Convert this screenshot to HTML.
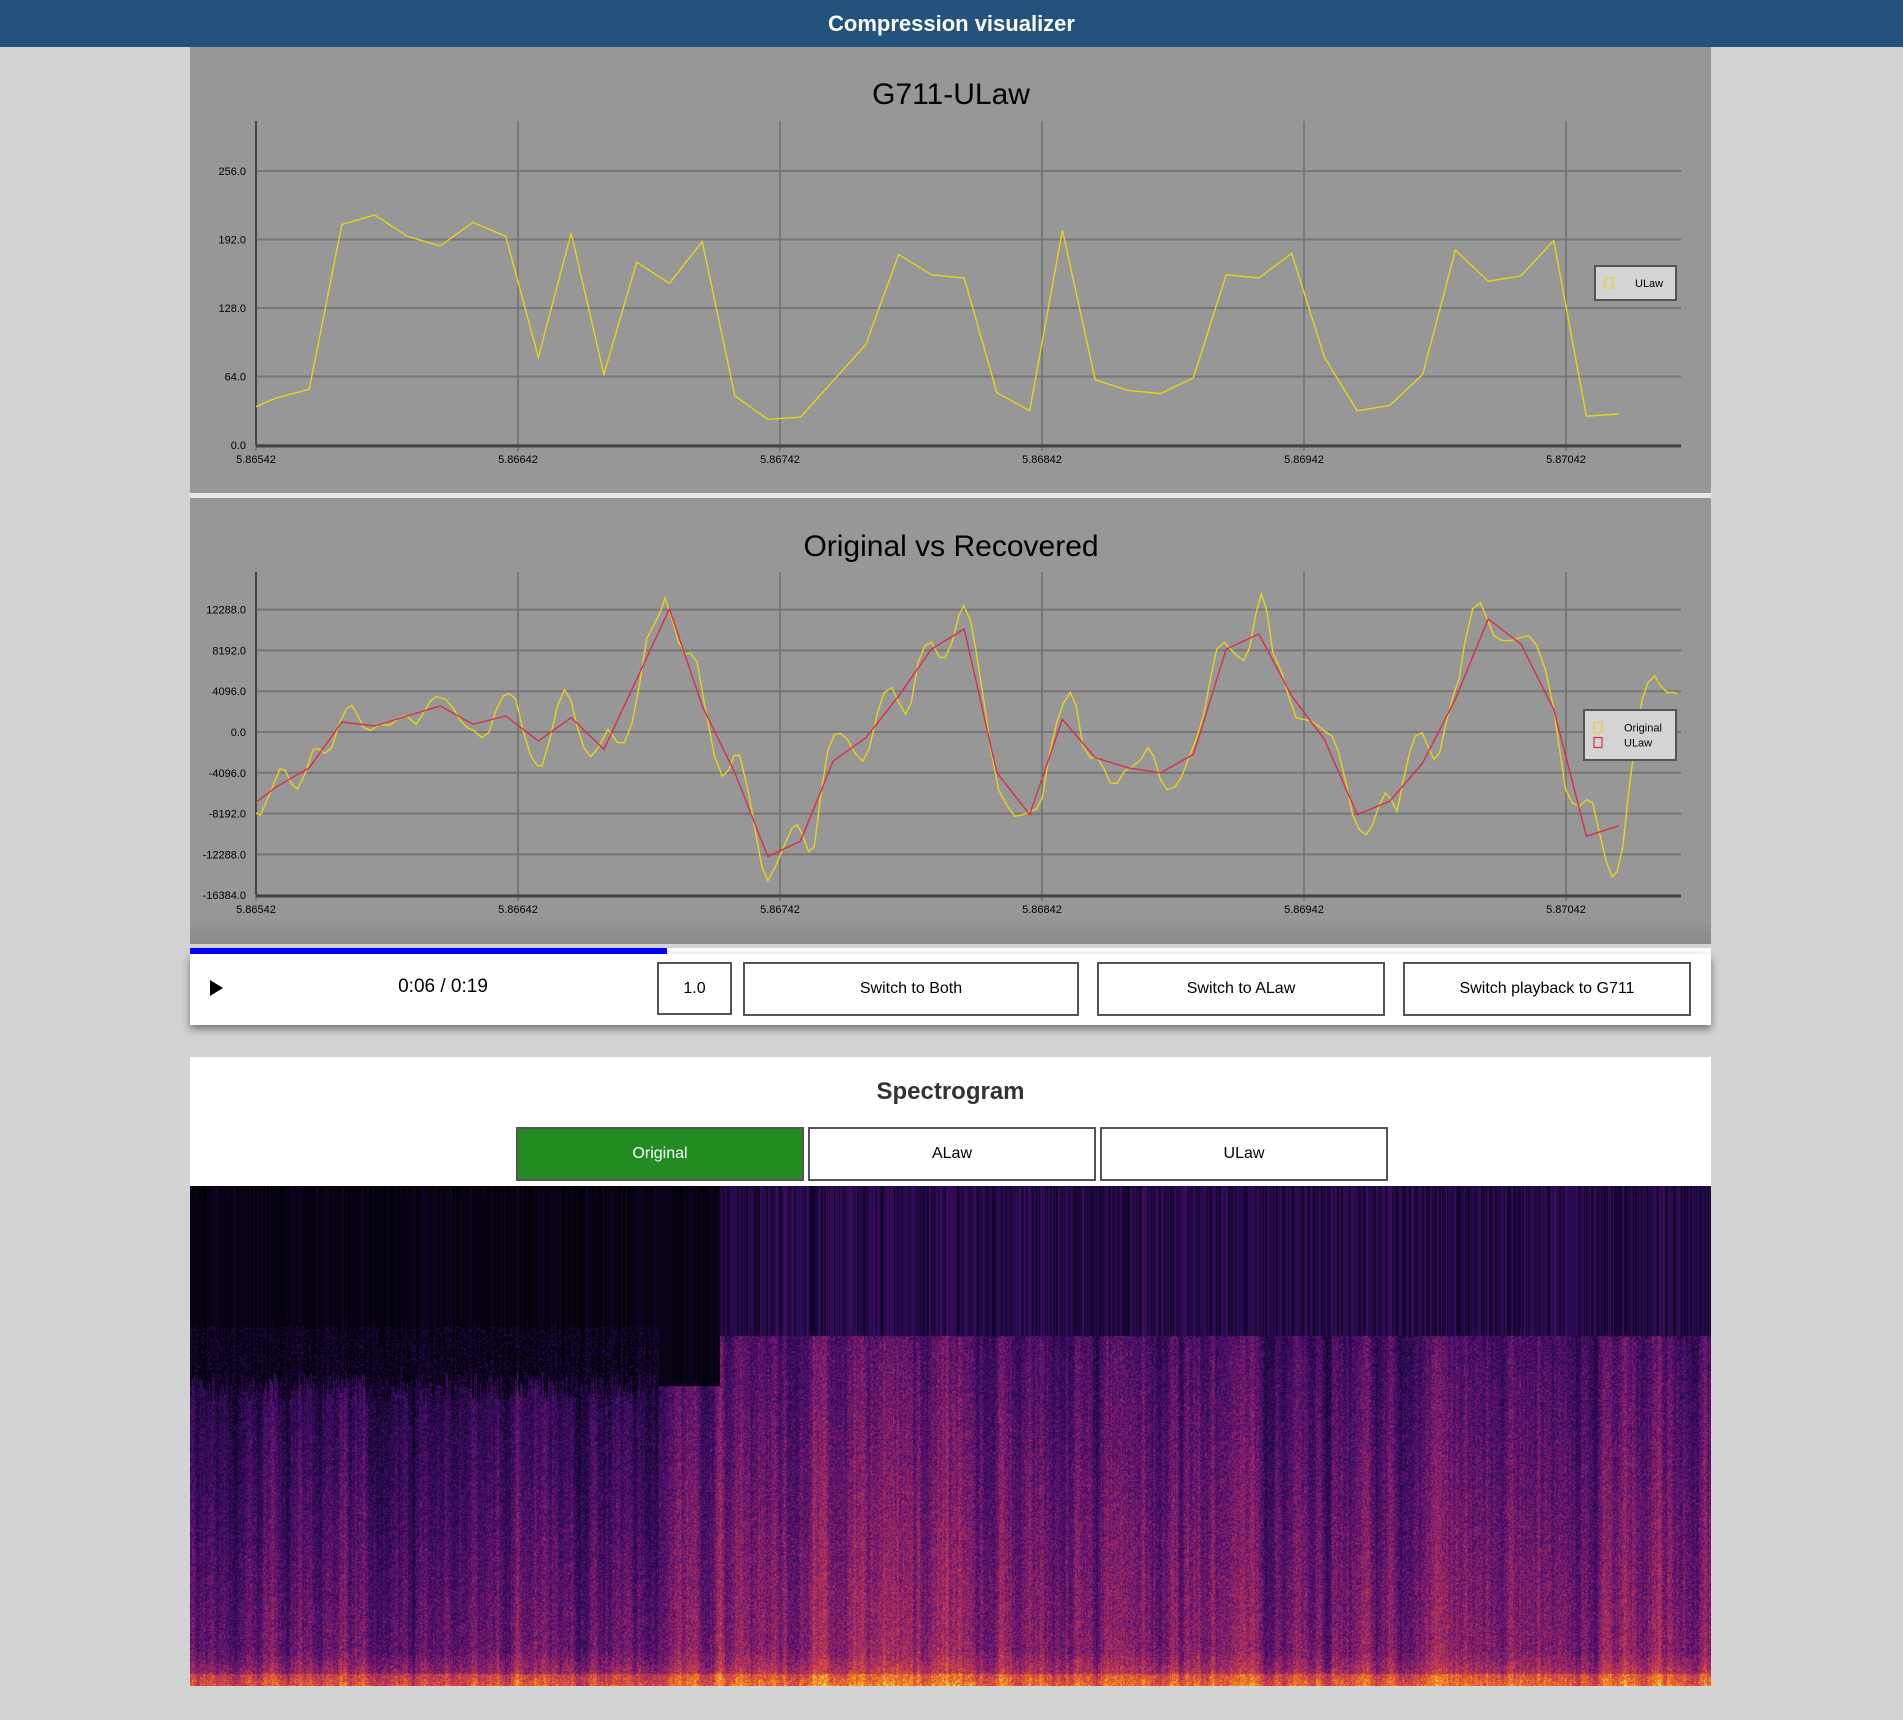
<!DOCTYPE html>
<html><head><meta charset="utf-8">
<style>
body{margin:0;width:1903px;height:1720px;background:#d3d3d3;position:relative;overflow:hidden;font-family:"Liberation Sans",sans-serif}
.abs{position:absolute}
#hdr{left:0;top:0;width:1903px;height:47px;background:#23527c;color:#fff;font-weight:bold;font-size:22px;text-align:center;line-height:47px}
.panel{left:190px;width:1521px;background:#979797}
.btn{position:absolute;box-sizing:border-box;border:2px solid #555;background:#fff;font-size:16px;text-align:center;color:#000}
</style></head><body>
<div id="hdr" class="abs">Compression visualizer</div>
<div class="abs panel" style="top:47px;height:446px"></div>
<div class="abs" style="left:190px;top:493px;width:1521px;height:5px;background:#e6e6e6"></div>
<div class="abs panel" style="top:498px;height:446px;background:linear-gradient(#979797 0,#979797 420px,#8a8a8a 446px)"></div>
<svg class="abs" style="left:0;top:0" width="1903" height="960" id="charts"></svg>

<div class="abs" style="left:190px;top:948px;width:1521px;height:6px;background:#fff"></div>
<div class="abs" style="left:190px;top:948px;width:477px;height:6px;background:#0000ff"></div>
<div class="abs" style="left:190px;top:954px;width:1521px;height:71px;background:#fff;box-shadow:0 4px 8px rgba(0,0,0,.45)">
  <div class="abs" style="left:20px;top:26px;width:0;height:0;border-left:13px solid #000;border-top:8px solid transparent;border-bottom:8px solid transparent"></div>
  <div class="abs" style="left:183px;top:22px;width:140px;text-align:center;font-size:19px">0:06 / 0:19</div>
  <div class="btn" style="left:467px;top:8px;width:75px;height:53px;line-height:49px">1.0</div>
  <div class="btn" style="left:553px;top:8px;width:336px;height:54px;line-height:50px">Switch to Both</div>
  <div class="btn" style="left:907px;top:8px;width:288px;height:54px;line-height:50px">Switch to ALaw</div>
  <div class="btn" style="left:1213px;top:8px;width:288px;height:54px;line-height:50px">Switch playback to G711</div>
</div>

<div class="abs" style="left:190px;top:1057px;width:1521px;height:129px;background:#fff">
  <div class="abs" style="left:0;top:21px;width:1521px;text-align:center;font-weight:bold;font-size:24px;color:#333">Spectrogram</div>
  <div class="btn" style="left:326px;top:70px;width:288px;height:54px;line-height:50px;background:#228b22;color:#fff">Original</div>
  <div class="btn" style="left:618px;top:70px;width:288px;height:54px;line-height:50px">ALaw</div>
  <div class="btn" style="left:910px;top:70px;width:288px;height:54px;line-height:50px">ULaw</div>
</div>
<canvas id="spec" class="abs" style="left:190px;top:1186px" width="1521" height="500"></canvas>

<script>
const xTicks=["5.86542","5.86642","5.86742","5.86842","5.86942","5.87042"];
const ulawTicks=[0,64,128,192,256];
const cmpTicks=[-16384,-12288,-8192,-4096,0,4096,8192,12288];
const ulawStart=5.865373, ulawStep=0.000125;
const ulawCodes=[31,44,52,206,215,195,186,208,195,82,198,66,171,151,190,46,24,26,60,94,178,159,156,49,32,201,61,51,48,63,159,156,179,82,32,37,66,182,153,158,191,27,29];
const ulawDecoded=[-8000,-5500,-3592,1007,604,1611,2618,772,1611,-906,1443,-1746,5304,12354,2618,-4096,-12488,-10977,-2920,-571,3626,8325,10340,-4096,-8292,1276,-2585,-3592,-4096,-2249,8325,9836,3626,-739,-8292,-6949,-3088,3290,11347,8829,2283,-10474,-9400];
const origT=[0,1.8,4.8,9.2,11.1,13.7,15.9,18.9,21.8,23.7,26.3,28.9,31.5,34.4,36.6,38.9,41.1,43.7,47.4,51.1,54.8,57.4,61.1,64.0,66.6,68.8,72.2,75.1,78.1,80.7,83.3,86.2,88.8,91.8,94.4,96.6,99.2,101.8,104.7,107.3,109.2,112.1,115.1,117.7,120.3,122.5,125.1,127.7,130.6,134.3,138.0,140.6,143.6,146.5,149.1,151.7,154.3,156.1,158.4,161.3,163.9,165.8,168.4,171.3,175.0,178.0,180.6,182.4,184.6,188.0,190.9,193.1,195.4,198.3,201.7,204.6,206.5,208.3,210.9,213.1,215.7,218.3,220.9,223.1,225.7,228.7,231.6,234.2,237.2,239.8,242.7,245.3,247.9,250.1,252.7,255.3,257.9,260.9,263.1,265.7,268.3,270.1,272.7,274.9,277.9,280.5,283.4,286.8,289.7,292.7,295.3,297.9,300.1,302.7,305.6,308.2,310.8,313.0,315.6,318.6,321.2,323.8,326.0,328.6,331.5,334.9,337.8,340.4,342.6,345.2,347.8,350.8,353.4,356.3,358.9,361.9,364.5,366.7,369.6,371.9,374.4,377.0,379.3,381.5,383.7,385.9,388.1,391.5,394.1,397.0,399.6,402.6,405.2,408.1,410.7,413.3,416.3,418.5,421.1,423.7,426.2,428.5,431.1,433.3,435.5,437.7,440.3,442.5,445.1,447.3,449.6,451.8,454.4,456.9,459.2,461.4,464.4,467.3,469.9,472.5,475.5,479.2,482.9,485.8,488.8,492.1,495.1,497.7,499.9,502.5,505.1,508.0,510.2,512.5,515.4,517.6,519.5,521.7,523.9,526.5,529.1,531.3,533.9,536.1,538.7,541.3,542.4];
const origV=[-8131,-8299,-6451,-3696,-3830,-5275,-5712,-4099,-1747,-1680,-2150,-1579,605,2285,2688,1613,437,168,773,672,1445,1613,773,1949,3125,3562,3293,2453,1109,437,101,-571,-67,2285,3629,3864,3293,269,-2251,-3360,-3427,-739,2621,4234,3125,605,-1579,-2486,-1579,269,-1075,-1075,941,4973,9341,10685,12029,13440,11693,9005,7829,7930,6989,2621,-2419,-4435,-3763,-2352,-2352,-6115,-10483,-13507,-14918,-13507,-11323,-9643,-9307,-10147,-11995,-11491,-6115,-1747,-235,-134,-739,-2150,-2923,-1579,1949,3965,4469,2957,1781,2957,6989,8669,9005,7493,7493,9005,11693,12701,11189,7997,2957,-1747,-5779,-7459,-8467,-8299,-7963,-7728,-6619,-2419,941,2890,3965,2621,-1411,-2587,-2587,-3763,-5107,-5174,-3931,-3427,-2755,-1579,-2419,-4771,-5779,-5510,-4435,-2419,-739,1949,5645,8333,9005,8333,7661,7157,8501,11693,13877,12029,7997,5981,3629,1445,1277,1109,672,34,-403,-2083,-5443,-8299,-9811,-10315,-9307,-7459,-6115,-6787,-7963,-5107,-2083,-403,-67,-1411,-2755,-2083,1109,3629,5309,9005,12365,12970,11357,9677,9173,9173,9509,9677,8669,6317,2621,-2083,-5779,-7123,-7459,-6787,-7123,-9811,-13003,-14515,-14011,-11491,-6115,-739,3293,4973,5645,4637,3965,3965,3797];

const NS="http://www.w3.org/2000/svg";
const svg=document.getElementById('charts');
function X(t){return 256+(t-5.86542)/0.001*262;}
function Y1(v){return 445-v/256*274;}
function Y2(v){return 732-v/4096*40.8;}
function mk(tag,attrs,parent){const e=document.createElementNS(NS,tag);for(const k in attrs)e.setAttribute(k,attrs[k]);(parent||svg).appendChild(e);return e;}
function txt(x,y,s,size,anchor,parent){const e=mk('text',{x:x,y:y,'font-size':size,'text-anchor':anchor||'middle','font-family':'Liberation Sans, sans-serif',fill:'#000'},parent);e.textContent=s;return e;}

function chart(title,titleY,top,bottom,Yf,ticks,fmt,name){
  const g=mk('g',{});
  
  
  const tt=txt(951,titleY,title,30,'middle',g);
  
  
  xTicks.forEach(s=>{const x=X(parseFloat(s));
    const l=mk('line',{x1:x,x2:x,y1:top,y2:bottom+6,stroke:'#5e5e5e','stroke-width':1},g);
    
    
    const t=txt(x,bottom+18,s,11,'middle',g);
    
    });
  ticks.forEach(v=>{const y=Yf(v);
    const l=mk('line',{x1:256,x2:1681,y1:y,y2:y,stroke:'#767676','stroke-width':2},g);
    
    
    const t=txt(246,y+4,fmt(v),11,'end',g);
    
    });
  const ax=mk('line',{x1:256,x2:256,y1:top,y2:bottom,stroke:'#444','stroke-width':2},g);
  
  
  const bx=mk('line',{x1:256,x2:1681,y1:bottom+1,y2:bottom+1,stroke:'#444','stroke-width':3},g);
  
  
  return g;
}
function clip(id,top,bottom){const d=mk('clipPath',{id:id});mk('rect',{x:256,y:top,width:1425,height:bottom-top},d);}
function series(ts,vs,Yf,color,clipId,name){
  const pts=ts.map((t,i)=>X(t).toFixed(1)+','+Yf(vs[i]).toFixed(1)).join(' ');
  const p=mk('polyline',{points:pts,fill:'none',stroke:color,'stroke-width':1.4,'clip-path':'url(#'+clipId+')'});
  
  
}
function legend(x,y,w,h,items,name){
  const g=mk('g',{});
  
  
  mk('rect',{x:x,y:y,width:w,height:h,fill:'#d4d4d4',stroke:'#555','stroke-width':2},g);
  items.forEach((it,i)=>{const yy=y+h/2-(items.length-1)*7.5+i*15;
    mk('rect',{x:x+10,y:yy-5,width:8,height:10,fill:'none',stroke:it[1],'stroke-width':1.2},g);
    const t=txt(x+40,yy+4,it[0],11,'start',g);
    
    });
}
const ulawT=ulawCodes.map((_,i)=>ulawStart+i*ulawStep);
chart('G711-ULaw',104,121,445,Y1,ulawTicks,v=>v.toFixed(1),'ulaw-chart');
clip('c1',121,447);
series(ulawT,ulawCodes,Y1,'#e8d21c','c1','ulaw-code-line');
legend(1595,266,81,34,[['ULaw','#e8d21c']],'ulaw-legend');

chart('Original vs Recovered',556,572,895,Y2,cmpTicks,v=>v.toFixed(1),'comparison-chart');
clip('c2',572,897);
const oT=origT.map(o=>5.86542+o*1e-5);
series(oT,origV,Y2,'#e8d21c','c2','original-line');
series(ulawT,ulawDecoded,Y2,'#d6304a','c2','ulaw-recovered-line');
legend(1584,710,92,50,[['Original','#e8d21c'],['ULaw','#d6304a']],'comparison-legend');

// spectrogram texture
(function(){
  const c=document.getElementById('spec'),ctx=c.getContext('2d'),W=c.width,H=c.height;
  const img=ctx.createImageData(W,H),d=img.data;
  let s=12345;function r(){s=(s*1103515245+12345)&0x7fffffff;return s/0x7fffffff;}
  const stops=[[0,0,0,4],[0.2,40,11,84],[0.35,87,16,110],[0.5,147,38,103],[0.65,200,60,80],[0.78,237,105,37],[0.9,251,170,20],[1,252,255,164]];
  function cm(v){v=Math.max(0,Math.min(1,v));for(let i=1;i<stops.length;i++){if(v<=stops[i][0]){const a=stops[i-1],b=stops[i],f=(v-a[0])/(b[0]-a[0]);return[a[1]+(b[1]-a[1])*f,a[2]+(b[2]-a[2])*f,a[3]+(b[3]-a[3])*f];}}return[252,255,164];}
  const col=[],top=[],streak=[];let sm=0;
  for(let x=0;x<W;x++){sm=sm*0.85+(r()-0.5)*0.1;col.push(sm+(r()-0.5)*0.05);
    let reg=x<469?0:(x<530?1:2);
    let cut=reg==0?0.6+(r()-0.5)*0.06:(reg==1?0.6:0.7);
    top.push(cut);streak.push(reg==2?0.06+r()*0.22:r()*0.1);}
  for(let y=0;y<H;y++){const f=1-y/H;
    for(let x=0;x<W;x++){let v;const reg=x<469?0:(x<530?1:2);
      if(f>top[x]){v=streak[x]*(reg==2?1:0.8);if(reg==0&&f<0.72&&r()<0.2)v+=0.15;}
      else{v=0.48-0.25*f+col[x]+(r()-0.5)*0.26;
        if(reg==0)v-=0.08+0.1*f;
        if(f<0.07)v+=0.18*(1-f/0.07);
        if(f<0.025)v+=0.12;}
      const k=cm(v),i=(y*W+x)*4;d[i]=k[0];d[i+1]=k[1];d[i+2]=k[2];d[i+3]=255;}}
  ctx.putImageData(img,0,0);
})();
</script>
</body></html>
